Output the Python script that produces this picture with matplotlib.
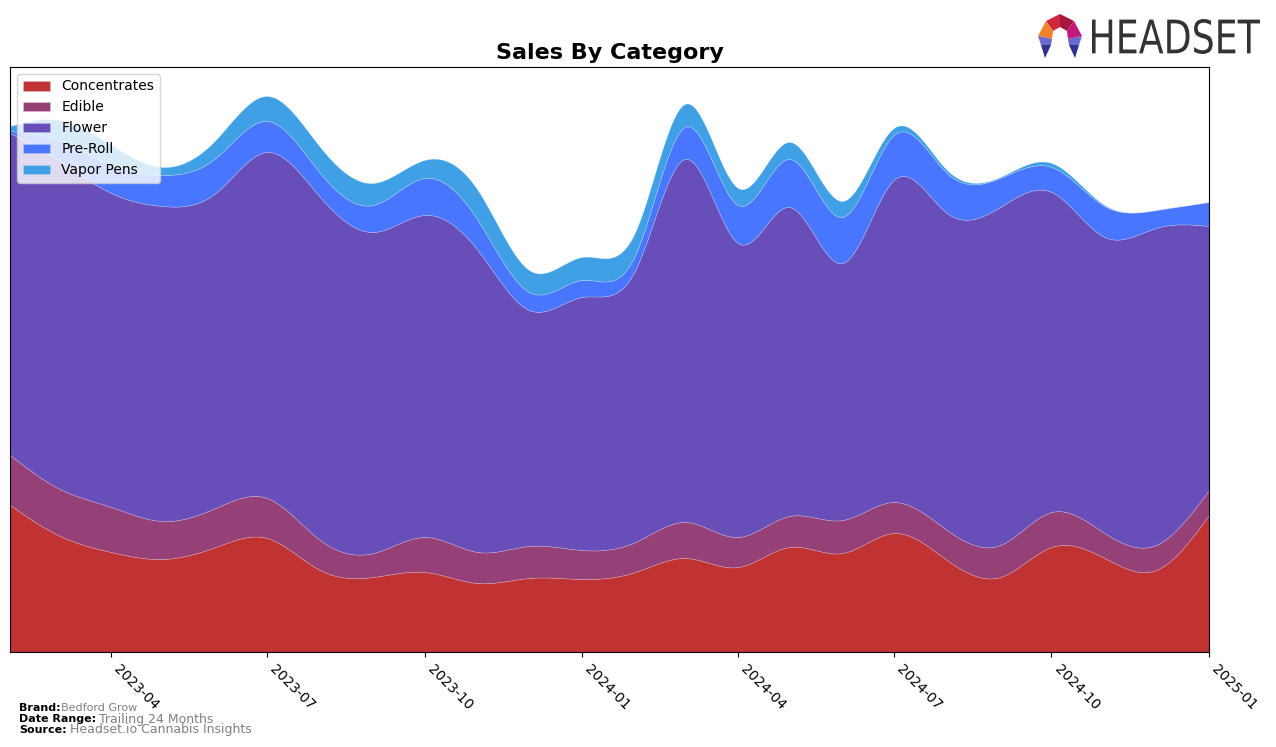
import numpy as np
import pandas as pd
import matplotlib
matplotlib.use("Agg")
import matplotlib.pyplot as plt
import matplotlib.dates as mdates
from matplotlib.patches import Polygon, PathPatch
from matplotlib.textpath import TextPath
from matplotlib.font_manager import FontProperties
from matplotlib.transforms import Affine2D

# monthly sales by category (arbitrary units)
months = pd.date_range("2023-02-01", "2025-01-01", freq="MS")
categories = ["Concentrates", "Edible", "Flower", "Pre-Roll", "Vapor Pens"]
concentrates = [147, 117, 100, 93, 105, 114, 82, 75, 80, 69, 74, 73,
                80, 94, 85, 105, 99, 119, 92, 75, 105, 94, 82, 137]
edible = [50, 47, 45, 38, 39, 40, 30, 24, 35, 31, 32, 29,
          30, 36, 30, 31, 33, 31, 30, 32, 35, 25, 25, 25]
flower = [322, 328, 314, 315, 315, 346, 343, 321, 322, 302, 236, 253,
          272, 363, 294, 309, 257, 322, 317, 338, 320, 296, 317, 264]
pre_roll = [2, 20, 28, 31, 35, 31, 24, 27, 37, 30, 18, 17,
            15, 32, 38, 48, 46, 45, 40, 29, 25, 31, 18, 24]
vapor_pens = [5, 20, 20, 8, 18, 25, 26, 22, 18, 30, 22, 23,
              23, 23, 17, 17, 16, 7, 3, 1, 4, 1, 0, 0]
colors = ["#c13232", "#964078", "#684eb9", "#4876ff", "#40a0e6"]


def smooth(x, y, xs):
    # natural cubic spline through the monthly points
    x = np.asarray(x, float)
    y = np.asarray(y, float)
    n = len(x)
    h = np.diff(x)
    A = np.zeros((n, n))
    r = np.zeros(n)
    A[0, 0] = A[-1, -1] = 1
    for i in range(1, n - 1):
        A[i, i - 1] = h[i - 1]
        A[i, i] = 2 * (h[i - 1] + h[i])
        A[i, i + 1] = h[i]
        r[i] = 3 * ((y[i + 1] - y[i]) / h[i] - (y[i] - y[i - 1]) / h[i - 1])
    c = np.linalg.solve(A, r)
    b = (y[1:] - y[:-1]) / h - h * (2 * c[:-1] + c[1:]) / 3
    d = (c[1:] - c[:-1]) / (3 * h)
    idx = np.clip(np.searchsorted(x, xs) - 1, 0, n - 2)
    t = xs - x[idx]
    return y[idx] + b[idx] * t + c[idx] * t ** 2 + d[idx] * t ** 3


xnum = mdates.date2num(months)
xs = np.linspace(xnum[0], xnum[-1], 1200)
series = [concentrates, edible, flower, pre_roll, vapor_pens]
ys = [np.clip(smooth(xnum, s, xs), 0, None) for s in series]

fig = plt.figure(figsize=(12.76, 7.47), dpi=100)
ax = fig.add_axes([10 / 1276, 95 / 747, 1199 / 1276, 585 / 747])
ax.stackplot(xs, ys, labels=categories, colors=colors,
             edgecolor=(1, 1, 1, 0.25), linewidth=0.5)
ax.set_xlim(xnum[0], xnum[-1])
ax.set_ylim(0, 585)
ax.set_yticks([])

ticks = pd.date_range("2023-04-01", "2025-01-01", freq="3MS")
ax.set_xticks(mdates.date2num(ticks))
ax.set_xticklabels([t.strftime("%Y-%m") for t in ticks], rotation=-45,
                   ha="left", fontsize=10)
ax.set_title("Sales By Category", fontsize=16, fontweight="bold", pad=6)
ax.legend(loc="upper left", fontsize=10, framealpha=0.8)

# footer
fig.text(19 / 1276, 1 - 708 / 747, "Brand:", fontsize=8, fontweight="bold", va="center")
fig.text(61 / 1276, 1 - 708 / 747, "Bedford Grow", fontsize=8, color="gray", va="center")
fig.text(19 / 1276, 1 - 719 / 747, "Date Range:", fontsize=8, fontweight="bold", va="center")
fig.text(99 / 1276, 1 - 719 / 747, "Trailing 24 Months", fontsize=9, color="gray", va="center")
fig.text(19 / 1276, 1 - 730 / 747, "Source:", fontsize=8, fontweight="bold", va="center")
fig.text(70 / 1276, 1 - 730 / 747, "Headset.io Cannabis Insights", fontsize=9, color="gray", va="center")

# logo, drawn in a pixel-coordinate axes (y down)
la = fig.add_axes([1034 / 1276, 1 - 64 / 747, 232 / 1276, 54 / 747])
la.set_xlim(0, 232)
la.set_ylim(54, 0)
la.axis("off")
tp = TextPath((0, 0), "HEADSET", size=10, prop=FontProperties(family="DejaVu Sans"))
bb = tp.get_extents()
sx = 168 / bb.width
sy = 35 / bb.height
tr = Affine2D().translate(-bb.x0, -bb.y0).scale(sx, -sy).translate(58, 44)
la.add_patch(PathPatch(tr.transform_path(tp), facecolor="#333333", edgecolor="none"))

pieces = [
    ([(12, 11), (26, 4), (26, 17), (19, 21)], "#d0263f"),
    ([(26, 4), (40, 11), (33, 21), (26, 17)], "#a8173d"),
    ([(40, 11), (48, 26), (34, 29), (33, 21)], "#c2197a"),
    ([(12, 11), (4, 26), (18, 29), (19, 21)], "#f0822a"),
    ([(4, 26), (18, 29), (17, 35), (7, 35)], "#6a6ad0"),
    ([(7, 35), (17, 35), (11, 48)], "#33318f"),
    ([(48, 26), (34, 29), (35, 35), (45, 35)], "#6a6ad0"),
    ([(45, 35), (35, 35), (41, 48)], "#33318f"),
]
for pts, col in pieces:
    la.add_patch(Polygon(pts, closed=True, facecolor=col, edgecolor="none"))

fig.savefig("out.png", dpi=100)
